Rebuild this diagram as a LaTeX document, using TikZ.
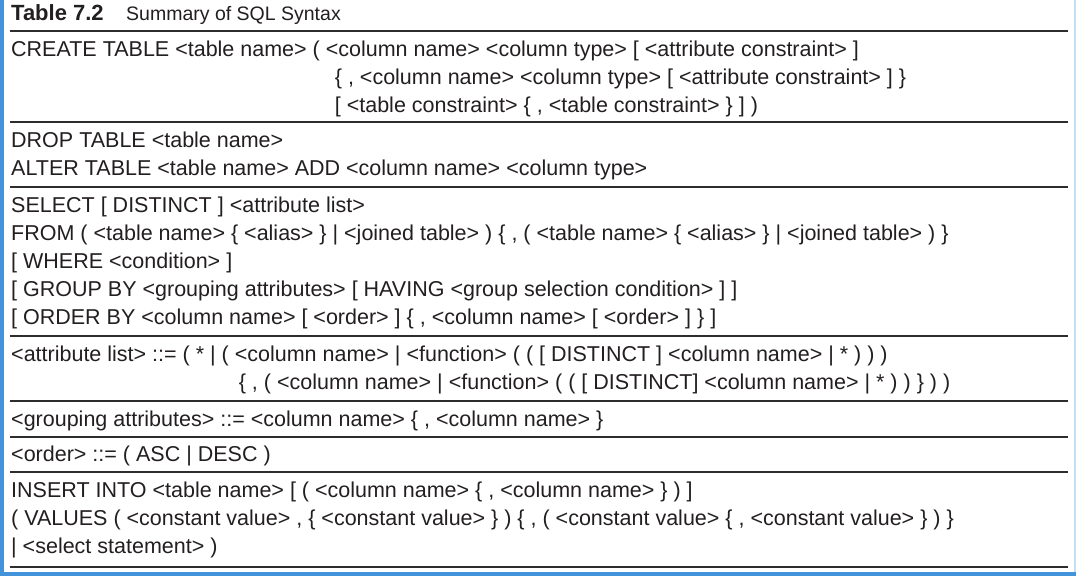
\documentclass[tikz,border=0pt]{standalone}
\usepackage{fontspec}
\setmainfont{Liberation Sans}
\definecolor{bluebar}{RGB}{66,147,218}
\definecolor{bluelight}{RGB}{196,222,242}
\definecolor{rulegray}{RGB}{45,45,45}
\definecolor{ink}{RGB}{35,31,32}
\newcommand\rowfont{\fontsize{21.5}{28}\selectfont}
\begin{document}
\begin{tikzpicture}[x=1pt,y=-1pt,
  row/.style={anchor=base west, inner sep=0pt, font=\rowfont, text=ink},
  sepline/.style={draw=rulegray, line width=1.6pt}]
\useasboundingbox (0,0) rectangle (1076,576);
\fill[white] (0,0) rectangle (1076,576);
\fill[bluebar] (0,0) rectangle (3.5,576);
\fill[bluebar] (0,572) rectangle (1076,576);
\fill[bluelight] (1074,0) rectangle (1076,572);
% title
\node[anchor=base west, inner sep=0pt, text=ink, font=\fontsize{22}{26}\selectfont\bfseries] (t1) at (11,20) {Table 7.2};
\node[anchor=base west, inner sep=0pt, text=ink, font=\fontsize{19.5}{24}\selectfont] (t2) at (126,20) {Summary of SQL Syntax};
% separators
\foreach \yy in {31,122,187,336,401,437,472,567}
  \draw[sepline] (10,\yy) -- (1068,\yy);
% CREATE
\node[row] (c1) at (11,56) {CREATE TABLE <table name> ( <column name> <column type> [ <attribute constraint> ]};
\node[row] (c2) at (11,84) {\phantom{CREATE TABLE <table name> (\ }\hspace*{9pt}\{ , <column name> <column type> [ <attribute constraint> ] \}};
\node[row] (c3) at (11,112) {\phantom{CREATE TABLE <table name> (\ }\hspace*{9pt}[ <table constraint> \{ , <table constraint> \} ] )};
% DROP / ALTER
\node[row] (d1) at (11,147) {DROP TABLE <table name>};
\node[row] (d2) at (11,175) {ALTER TABLE <table name> ADD <column name> <column type>};
% SELECT
\node[row] (s1) at (11,212) {SELECT [ DISTINCT ] <attribute list>};
\node[row] (s2) at (11,240) {FROM ( <table name> \{ <alias> \} | <joined table> ) \{ , ( <table name> \{ <alias> \} | <joined table> ) \}};
\node[row] (s3) at (11,268) {[ WHERE <condition> ]};
\node[row] (s4) at (11,296) {[ GROUP BY <grouping attributes> [ HAVING <group selection condition> ] ]};
\node[row] (s5) at (11,324) {[ ORDER BY <column name> [ <order> ] \{ , <column name> [ <order> ] \} ]};
% attribute list
\node[row] (a1) at (11,361) {<attribute list> ::= ( * | ( <column name> | <function> ( ( [ DISTINCT ] <column name> | * ) ) )};
\node[row] (a2) at (11,389) {\phantom{<attribute list> ::= ( * | (\ }\hspace*{4pt}\{ , ( <column name> | <function> ( ( [ DISTINCT] <column name> | * ) ) \} ) )};
% grouping
\node[row] (g1) at (11,426) {<grouping attributes> ::= <column name> \{ , <column name> \}};
% order
\node[row] (o1) at (11,461) {<order> ::= ( ASC | DESC )};
% INSERT
\node[row] (i1) at (11,497) {INSERT INTO <table name> [ ( <column name> \{ , <column name> \} ) ]};
\node[row] (i2) at (11,525) {( VALUES ( <constant value> , \{ <constant value> \} ) \{ , ( <constant value> \{ , <constant value> \} ) \}};
\node[row] (i3) at (11,553) {| <select statement> )};
\end{tikzpicture}
\end{document}
